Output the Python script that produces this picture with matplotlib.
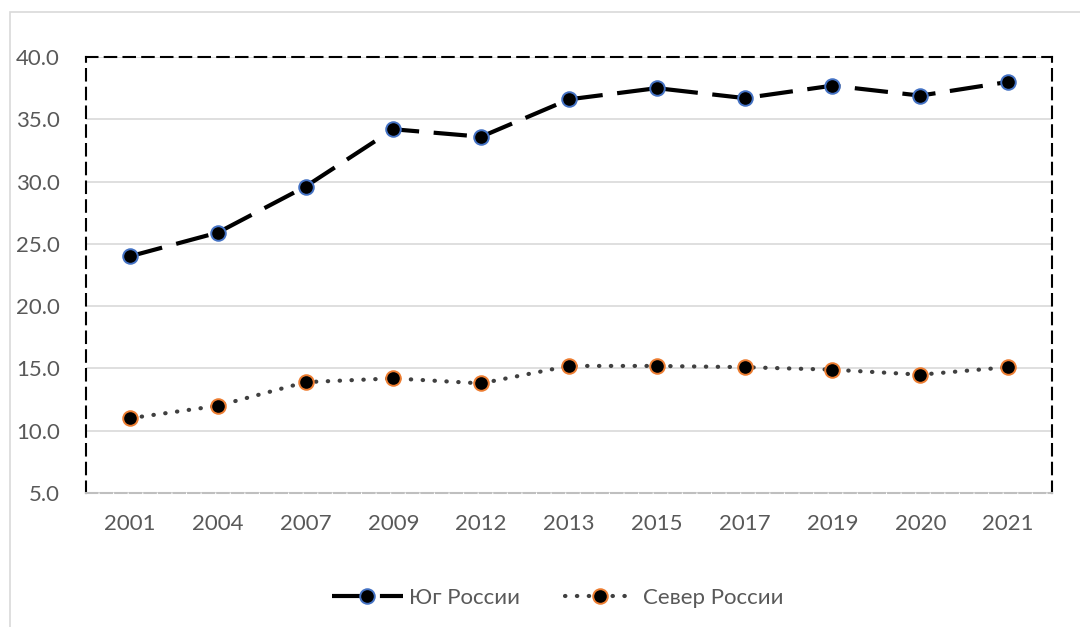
import matplotlib.pyplot as plt
from matplotlib.patches import Rectangle

years = ['2001', '2004', '2007', '2009', '2012', '2013', '2015', '2017', '2019', '2020', '2021']
south = [24.0, 25.9, 29.6, 34.2, 33.6, 36.6, 37.5, 36.7, 37.7, 36.9, 38.0]
north = [11.0, 12.0, 13.9, 14.2, 13.8, 15.2, 15.2, 15.1, 14.9, 14.5, 15.1]
yticks = [5, 10, 15, 20, 25, 30, 35, 40]

plt.rcParams['font.family'] = ['Lato', 'DejaVu Sans']

fig = plt.figure(figsize=(10.8, 6.27), dpi=100)
# outer chart area border (light gray)
fig.patches.append(Rectangle((10 / 1080, -0.1), 1.2, 1 - 12 / 627 + 0.1, transform=fig.transFigure,
                             fill=False, edgecolor='#D9D9D9', lw=1.2))

ax = fig.add_axes([86 / 1080, 1 - 493 / 627, (1052 - 86) / 1080, (493 - 57) / 627])
x = range(len(years))

ax.plot(x, south, color='black', lw=3, linestyle=(0, (8, 3.5)),
        marker='o', ms=10.5, mfc='black', mec='#4472C4', mew=1.4, label='Юг России', zorder=3)
ax.plot(x, north, color='#404040', lw=3, linestyle=(0, (0.1, 2.75)), dash_capstyle='round',
        marker='o', ms=10.5, mfc='black', mec='#ED7D31', mew=1.4, label='Север России', zorder=3)

ax.set_xlim(-0.5, len(years) - 0.5)
ax.set_ylim(5, 40)
ax.set_yticks(yticks)
ax.set_yticklabels([f'{v:.1f}' for v in yticks])
ax.set_xticks(list(x))
ax.set_xticklabels(years)
ax.tick_params(length=0, labelsize=16, labelcolor='#595959')
ax.tick_params(axis='y', pad=19)
ax.tick_params(axis='x', pad=15)
ax.grid(axis='y', color='#D9D9D9', lw=1.2)
ax.set_axisbelow(True)

for side in ['left', 'top', 'right']:
    ax.spines[side].set_color('black')
    ax.spines[side].set_linewidth(1.5)
    ax.spines[side].set_linestyle((0, (5.5, 3.5)))
ax.spines['bottom'].set_color('#BFBFBF')
ax.spines['bottom'].set_linewidth(1.5)
ax.spines['bottom'].set_linestyle((0, (5.5, 1.5)))

leg = fig.legend(loc='center', bbox_to_anchor=(0.516, 0.046), ncol=2, frameon=False,
                 fontsize=16, handlelength=3.2, handletextpad=0.3, columnspacing=2.0)
for t in leg.get_texts():
    t.set_color('#595959')

fig.savefig('out.png', dpi=100)
